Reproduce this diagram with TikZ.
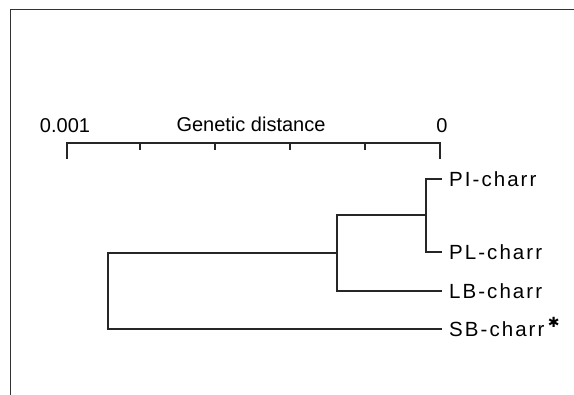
\documentclass[tikz,border=0pt]{standalone}
\usepackage{fontspec}
\setmainfont{Liberation Sans}
\newfontfamily\symfont{DejaVu Sans}
\begin{document}
\begin{tikzpicture}[x=1pt,y=-1pt,
  branch/.style={line width=1.1pt, draw=black!85, line cap=rect},
  taxon/.style={anchor=west, inner sep=0pt, font=\fontsize{20.5}{24}\selectfont\addfontfeature{LetterSpace=10}},
  axislabel/.style={inner sep=0pt, font=\fontsize{20}{24}\selectfont}]
\useasboundingbox (0,0) rectangle (574,395);

% frame edges
\draw[line width=1pt, draw=black!80] (10,395) -- (10,10) -- (574,10);

% scale bar
\coordinate (s0) at (67,143);
\coordinate (s5) at (440,143);
\draw[branch] (s0) -- (s5);
\draw[branch] (s0) -- ++(0,15);
\draw[branch] (s5) -- ++(0,15);
\foreach \x in {140,215,290,365}
  \draw[branch] (\x,143) -- (\x,149);
\node[axislabel] (lmax) at (65,126) {0.001};
\node[axislabel] (ltitle) at (251,124) {Genetic distance};
\node[axislabel] (lzero) at (442,126) {0};

% tree nodes
\coordinate (n3) at (426,215);
\coordinate (n2) at (337,253);
\coordinate (n1) at (108,291);
\coordinate (tPI) at (441,179);
\coordinate (tPL) at (441,252);
\coordinate (tLB) at (441,291);
\coordinate (tSB) at (441,329);

% taxon labels
\node[taxon] (PI) at ([xshift=8pt]tPI) {PI-charr};
\node[taxon] (PL) at ([xshift=8pt]tPL) {PL-charr};
\node[taxon] (LB) at ([xshift=8pt]tLB) {LB-charr};
\node[taxon] (SB) at ([xshift=8pt]tSB) {SB-charr};
\node[anchor=south west, inner sep=0pt, font=\symfont\fontsize{14}{14}\selectfont]
  (star) at ([xshift=3pt,yshift=-6pt]SB.north east) {✱};

% branches
\draw[branch] (tPI) -| (n3) |- (tPL);
\draw[branch] (n3) -- (n2 |- n3) |- (tLB);
\draw[branch] (n2) -- (n1 |- n2) |- (tSB);
\end{tikzpicture}
\end{document}
